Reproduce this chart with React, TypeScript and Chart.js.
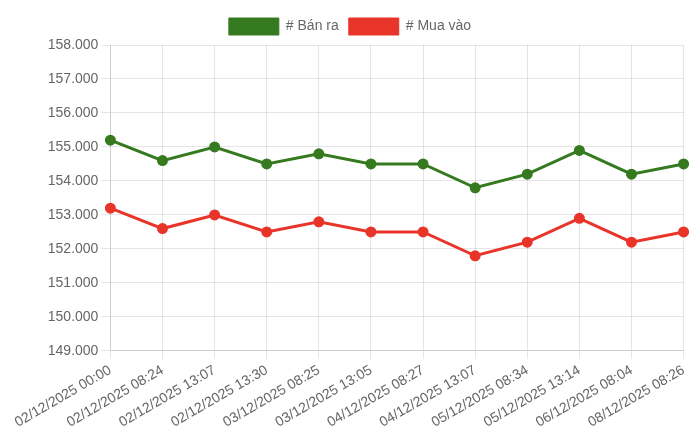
import React, { useEffect, useRef } from "react";
import { Chart, registerables } from "chart.js";

Chart.register(...registerables);

const categories = [
  "02/12/2025 00:00",
  "02/12/2025 08:24",
  "02/12/2025 13:07",
  "02/12/2025 13:30",
  "03/12/2025 08:25",
  "03/12/2025 13:05",
  "04/12/2025 08:27",
  "04/12/2025 13:07",
  "05/12/2025 08:34",
  "05/12/2025 13:14",
  "06/12/2025 08:04",
  "08/12/2025 08:26",
];

const banRa = [155200, 154600, 155000, 154500, 154800, 154500, 154500, 153800, 154200, 154900, 154200, 154500];
const muaVao = [153200, 152600, 153000, 152500, 152800, 152500, 152500, 151800, 152200, 152900, 152200, 152500];

const seriesNames = ["# Bán ra", "# Mua vào"];
const yMin = 149000;
const yMax = 158000;
const yStep = 1000;

function fmt(v: number): string {
  const s = Math.round(v).toString();
  return s.replace(/\B(?=(\d{3})+(?!\d))/g, ".");
}

export default function App() {
  const ref = useRef<HTMLCanvasElement | null>(null);
  useEffect(() => {
    if (!ref.current) return;
    const green = "#367a20";
    const red = "#e9342a";
    const family = "'Liberation Sans', Arial, sans-serif";
    const baseGen = (Chart.defaults as any).plugins.legend.labels.generateLabels;
    const chart = new Chart(ref.current, {
      type: "line",
      data: {
        labels: categories,
        datasets: [
          {
            label: seriesNames[0],
            data: banRa,
            borderColor: green,
            backgroundColor: green,
            borderWidth: 3,
            pointRadius: 4,
            pointBackgroundColor: green,
            pointBorderColor: green,
            tension: 0,
            fill: false,
          },
          {
            label: seriesNames[1],
            data: muaVao,
            borderColor: red,
            backgroundColor: red,
            borderWidth: 3,
            pointRadius: 4,
            pointBackgroundColor: red,
            pointBorderColor: red,
            tension: 0,
            fill: false,
          },
        ],
      },
      options: {
        animation: false,
        responsive: true,
        maintainAspectRatio: false,
        layout: { padding: { right: 8 } },
        plugins: {
          legend: {
            display: true,
            position: "top",
            labels: {
              boxWidth: 50,
              boxHeight: 17,
              color: "#666",
              font: { family, size: 14 },
              generateLabels: (c: any) =>
                baseGen(c).map((l: any) => ({ ...l, lineWidth: 1 })),
            },
          },
          tooltip: { enabled: false },
        },
        scales: {
          x: {
            grid: { color: "rgba(0,0,0,0.1)" },
            ticks: {
              color: "#666",
              minRotation: 30,
              maxRotation: 30,
              autoSkip: false,
              font: { family, size: 14 },
            },
          },
          y: {
            min: yMin,
            max: yMax,
            grid: { color: "rgba(0,0,0,0.1)", tickLength: 9 },
            ticks: {
              stepSize: yStep,
              color: "#666",
              padding: 3,
              font: { family, size: 14 },
              callback: (v: any) => fmt(Number(v)),
            },
          },
        },
      },
    } as any);
    return () => chart.destroy();
  }, []);
  return (
    <div style={{ width: 682, height: 426, marginLeft: 5, position: "relative" }}>
      <canvas ref={ref} />
    </div>
  );
}
